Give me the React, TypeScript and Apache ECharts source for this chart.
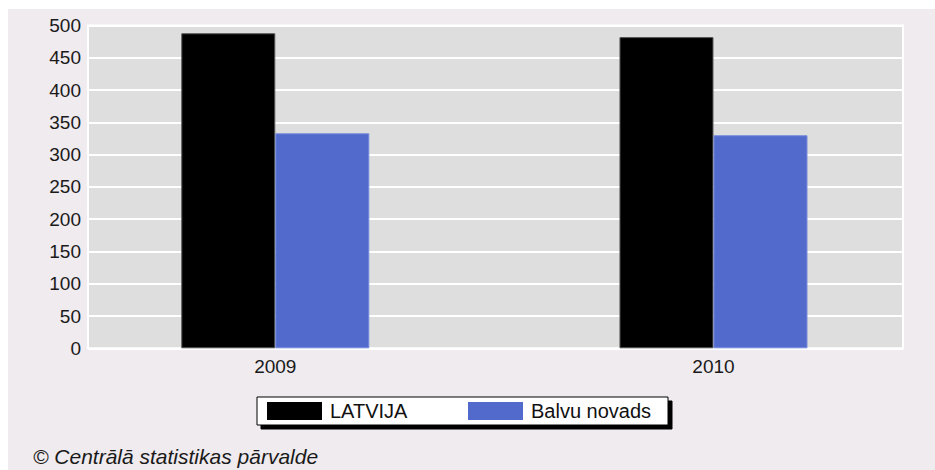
import React, { useEffect, useRef } from "react";
import * as echarts from "echarts";

const categories = ["2009", "2010"];
const seriesNames = ["LATVIJA", "Balvu novads"];
const latvijaValues = [488, 482];
const balvuValues = [333, 330];
const yTicks = { min: 0, max: 500, interval: 50 };
const footer = "© Centrālā statistikas pārvalde";

const FONT = "'Liberation Sans', Arial, sans-serif";

export default function App() {
  const ref = useRef<HTMLDivElement>(null);
  useEffect(() => {
    if (!ref.current) return;
    const chart = echarts.init(ref.current, null, { renderer: "svg" });
    const idx = categories.map((_, i) => i);
    chart.setOption({
      animation: false,
      backgroundColor: "#efebef",
      grid: {
        left: 80,
        right: 32,
        top: 16.5,
        bottom: 121.7,
        show: true,
        backgroundColor: "#dedede",
        borderColor: "#ffffff",
        borderWidth: 2,
      },
      xAxis: {
        type: "value",
        min: -0.4274,
        max: 1.4325,
        axisLine: { show: false },
        axisTick: { show: false },
        splitLine: { show: false },
        axisLabel: {
          customValues: idx,
          formatter: (v: number) => categories[Math.round(v)] ?? "",
          color: "#1a1a1a",
          fontSize: 19,
          fontFamily: FONT,
          margin: 9,
        },
      },
      yAxis: {
        type: "value",
        min: yTicks.min,
        max: yTicks.max,
        interval: yTicks.interval,
        axisLine: { show: false },
        axisTick: { show: false },
        splitLine: { show: true, lineStyle: { color: "#ffffff", width: 2 } },
        axisLabel: {
          color: "#1a1a1a",
          fontSize: 19,
          fontFamily: FONT,
          margin: 7,
        },
      },
      legend: {
        left: 249,
        top: 388,
        padding: [3, 7, 3, 10],
        itemGap: 8,
        itemWidth: 55,
        itemHeight: 18,
        backgroundColor: "#ffffff",
        borderColor: "#000000",
        borderWidth: 1,
        shadowColor: "#000000",
        shadowBlur: 0,
        shadowOffsetX: 4,
        shadowOffsetY: 4,
        icon: "rect",
        itemStyle: { borderWidth: 0 },
        textStyle: {
          color: "#111111",
          fontSize: 20,
          fontFamily: FONT,
          width: 130,
          lineHeight: 22,
          padding: [0, 0, 0, 3],
        },
        data: seriesNames,
      },
      graphic: [
        {
          type: "text",
          left: 25,
          top: 437,
          style: {
            text: footer,
            font: `italic 21px ${FONT}`,
            fill: "#1a1a1a",
          },
        },
      ],
      series: [
        {
          name: seriesNames[0],
          type: "bar",
          barWidth: 94,
          barGap: "0%",
          itemStyle: { color: "#000000", borderColor: "#555555", borderWidth: 1 },
          data: latvijaValues.map((v, i) => [idx[i], v]),
        },
        {
          name: seriesNames[1],
          type: "bar",
          barWidth: 94,
          barGap: "0%",
          itemStyle: { color: "#516acc", borderColor: "#7389dc", borderWidth: 1 },
          data: balvuValues.map((v, i) => [idx[i], v]),
        },
      ],
    });
    return () => chart.dispose();
  }, []);
  return (
    <div
      ref={ref}
      style={{ position: "absolute", left: 8, top: 9, width: 927, height: 461 }}
    />
  );
}
